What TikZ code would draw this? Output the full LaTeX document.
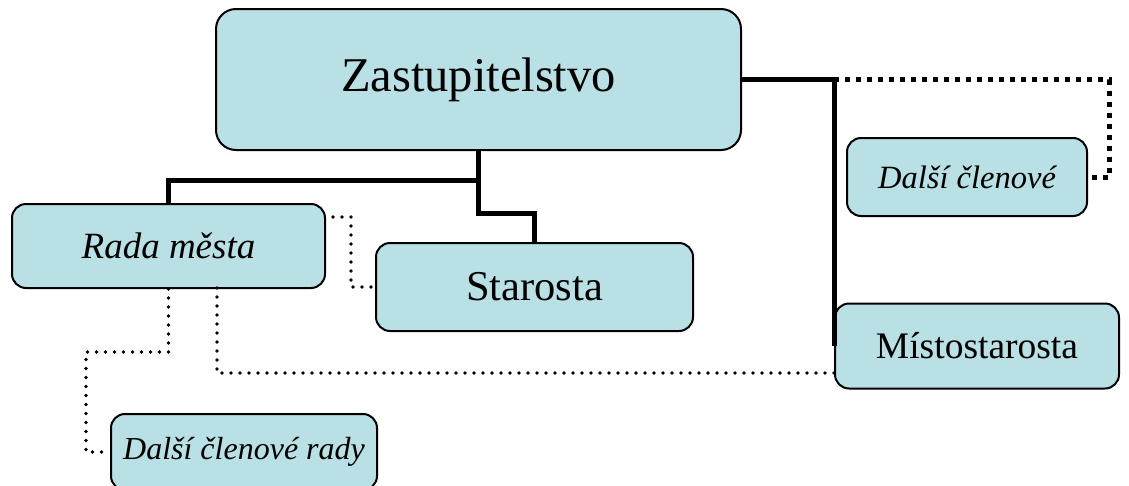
\documentclass[tikz,border=0pt]{standalone}
\usepackage{fontspec}
\setmainfont{Liberation Serif}
\definecolor{boxfill}{RGB}{185,224,228}
\tikzset{
  box/.style={draw, line width=2pt, fill=boxfill, rounded corners=14pt, inner sep=0pt},
  pevna/.style={line width=5pt},
  tecky/.style={line width=3.6pt, dash pattern=on 0pt off 9pt, line cap=round},
  ctverecky/.style={line width=5pt, dash pattern=on 5pt off 6pt}
}
\begin{document}
\begin{tikzpicture}[x=1pt,y=-1pt]
	\useasboundingbox (0,0) rectangle (1129,485);
	
	% boxes
	\node[box, rounded corners=20pt, minimum width=525pt, minimum height=141pt, font=\fontsize{48.5}{52}\selectfont] (zast) at (478.5,79.5) {Zastupitelstvo};
	\node[box, minimum width=313pt, minimum height=84pt, font=\fontsize{37}{40}\selectfont\itshape] (rada) at (168.5,246) {Rada města};
	\node[box, minimum width=317pt, minimum height=88pt, font=\fontsize{42.5}{46}\selectfont] (star) at (534.5,287) {Starosta};
	\node[box, minimum width=240pt, minimum height=78pt, font=\fontsize{32.5}{36}\selectfont\itshape] (dalsi) at (967,177) {Další členové};
	\node[box, minimum width=284pt, minimum height=85pt, font=\fontsize{37.5}{40}\selectfont] (mist) at (977,346) {Místostarosta};
	\node[box, minimum width=266pt, minimum height=76pt, font=\fontsize{32}{36}\selectfont\itshape] (radaDalsi) at (244,452) {Další členové rady};
	
	% helper points
	\coordinate (v1) at (478.5,180);
	\coordinate (r1) at (zast.east -| mist.west);
	\coordinate (r2) at (333,217);
	\coordinate (k1) at (86,352);
	\coordinate (k2) at (217,288);
	\coordinate (k3) at (835,373);
	
	% solid lines
	\draw[pevna] (zast.south) -- (v1) -| (rada.north);
	\draw[pevna] (v1) -- ++(0,33) -| (star.north);
	\draw[pevna] (zast.east) -| (mist.west);
	
	% dotted lines
	\draw[ctverecky] (r1) -- ++(275,0) |- (dalsi.east);
	\draw[tecky] (r2) -- ++(18,0) |- (star.west);
	\draw[tecky] (rada.south) |- (k1) |- (radaDalsi.west);
	\draw[tecky] (k2) |- (k3);
	
\end{tikzpicture}
\end{document}
